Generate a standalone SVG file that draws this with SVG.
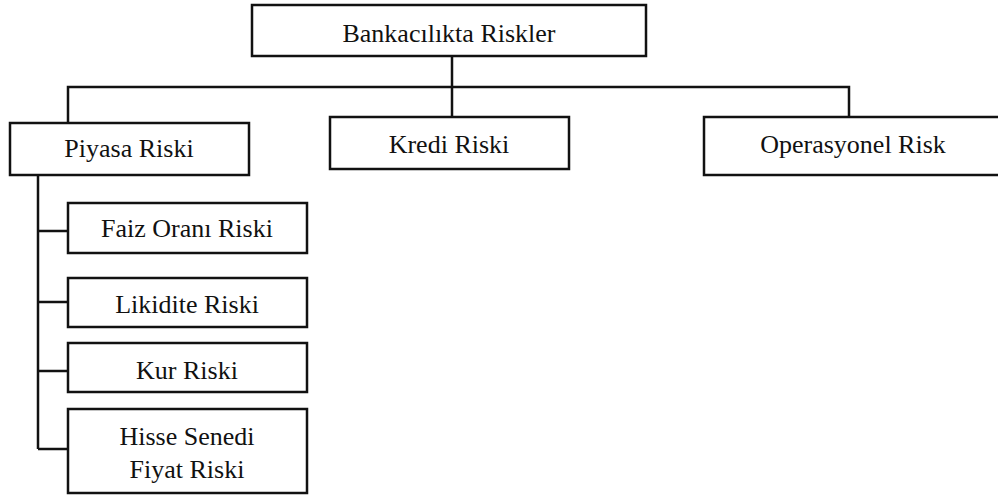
<svg xmlns="http://www.w3.org/2000/svg" width="998" height="495" viewBox="0 0 998 495">
<style>
.box{fill:#fff;stroke:#111;stroke-width:2.5}
.ln{fill:none;stroke:#111;stroke-width:2.5}
text{font-family:"Liberation Serif","Times New Roman",serif;font-size:26px;fill:#111;text-anchor:middle}
</style>
<rect width="998" height="495" fill="#fff"/>
<g id="connectors">
<path class="ln" d="M452 56 V117 M68 122 V87 H849 V117"/>
<path class="ln" d="M38 175 V449 M38 231 H68 M38 302 H68 M38 371 H68 M38 449 H68"/>
</g>
<g id="root"><rect class="box" x="252" y="5" width="394" height="51"/><text x="449" y="42">Bankacılıkta Riskler</text></g>
<g id="piyasa"><rect class="box" x="10" y="123" width="239" height="52"/><text x="129" y="157">Piyasa Riski</text></g>
<g id="kredi"><rect class="box" x="330" y="117" width="239" height="52"/><text x="449" y="153">Kredi Riski</text></g>
<g id="operasyonel"><rect class="box" x="704" y="117" width="300" height="58"/><text x="853" y="153">Operasyonel Risk</text></g>
<g id="faiz"><rect class="box" x="68" y="203" width="239" height="50"/><text x="187" y="237">Faiz Oranı Riski</text></g>
<g id="likidite"><rect class="box" x="68" y="278" width="239" height="49"/><text x="187" y="313">Likidite Riski</text></g>
<g id="kur"><rect class="box" x="68" y="343" width="239" height="49"/><text x="187" y="379">Kur Riski</text></g>
<g id="hisse"><rect class="box" x="68" y="409" width="239" height="84"/><text x="187" y="445">Hisse Senedi</text><text x="187" y="478">Fiyat Riski</text></g>
</svg>
